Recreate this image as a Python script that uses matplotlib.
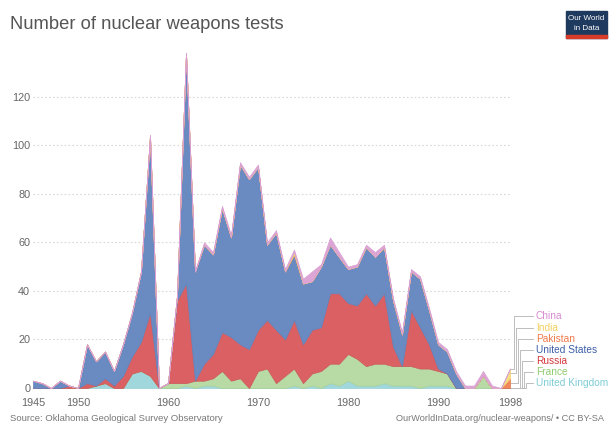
# Stacked area chart of nuclear weapons tests by country, 1945-1998.

import numpy as np
import matplotlib.pyplot as plt
from matplotlib.patches import Rectangle

plt.rcParams['font.family'] = ['Liberation Sans', 'DejaVu Sans']

# Data (tests per year)
years = list(range(1945, 1999))

uk = [0, 0, 0, 0, 0, 0, 0, 1, 2, 0, 0, 6, 7, 5, 0, 0,
      0, 1, 0, 1, 1, 0, 0, 0, 0, 0,
      0, 0, 0, 1, 0, 1, 0, 2, 1, 3,
      1, 1, 1, 2, 1, 1, 1, 0, 1, 1,
      1, 0, 0, 0, 0, 0, 0, 0]
france = [0, 0, 0, 0, 0, 0, 0, 0, 0, 0, 0, 0, 0, 0, 0, 2,
          2, 1, 3, 2, 3, 7, 3, 4, 0, 7,
          8, 2, 5, 7, 2, 5, 7, 8, 9, 11,
          11, 8, 9, 8, 8, 8, 8, 8, 7, 6,
          5, 0, 0, 0, 5, 0, 0, 0]
russia = [0, 0, 0, 0, 1, 0, 2, 0, 2, 1, 5, 7, 12, 26, 0, 0,
          34, 41, 0, 7, 10, 16, 18, 14, 16, 17,
          20, 22, 15, 20, 16, 18, 18, 29, 29, 21,
          22, 30, 24, 29, 8, 0, 23, 17, 10, 1,
          0, 0, 0, 0, 0, 0, 0, 0]
us = [3, 2, 0, 3, 0, 0, 16, 10, 11, 6, 13, 18, 29, 73, 0, 0,
      2, 95, 45, 49, 41, 51, 41, 74, 70, 67,
      31, 40, 28, 27, 25, 20, 25, 20, 15, 14,
      16, 19, 20, 19, 19, 13, 16, 20, 14, 10,
      9, 6, 0, 0, 0, 0, 0, 0]
pakistan = [0] * 53 + [4]
india = [0] * 29 + [1] + [0] * 23 + [4]
china = [0, 0, 0, 0, 0, 0, 0, 0, 0, 0, 0, 0, 0, 0, 0, 0,
         0, 0, 0, 1, 1, 1, 1, 1, 1, 1,
         1, 1, 1, 1, 2, 4, 1, 3, 2, 1,
         1, 1, 2, 1, 1, 1, 1, 1, 1, 1,
         1, 1, 1, 1, 2, 1, 0, 0]

series = [uk, france, russia, us, pakistan, india, china]
names = ['United Kingdom', 'France', 'Russia', 'United States', 'Pakistan', 'India', 'China']
fill_colors = ['#a0d7dd', '#b8dba5', '#da6063', '#6a8ac2', '#f2875c', '#f8de82', '#dca5d6']
edge_colors = ['#93cfd6', '#a9d294', '#cd585b', '#6282bb', '#e67b50', '#efd373', '#d99fd3']
text_colors = ['#7ecdd6', '#8fcb6f', '#d2383c', '#3d5ea8', '#f07a4a', '#f3d060', '#d88ad0']

fig = plt.figure(figsize=(6.09, 4.26), dpi=100)
W, H = 609, 426
ax = fig.add_axes([33 / W, 38 / H, (510 - 33) / W, (388 - 48) / H])
ax.set_xlim(1945, 1998)
ax.set_ylim(0, 140)

# Dotted grid behind the areas
for v in range(20, 140, 20):
    ax.axhline(v, color='#d8d8d8', lw=0.8, ls=(0, (1.5, 2)), zorder=0)

polys = ax.stackplot(years, *series, colors=fill_colors, linewidth=0.5, zorder=2)
for p, c in zip(polys, edge_colors):
    p.set_edgecolor(c)

ax.set_xticks([1945, 1950, 1960, 1970, 1980, 1990, 1998])
ax.set_yticks(range(0, 140, 20))
ax.tick_params(length=0, labelsize=7.8, colors='#666666')
ax.tick_params(axis='x', pad=7)
ax.tick_params(axis='y', pad=2)
for s in ax.spines.values():
    s.set_visible(False)

# Labels on the right with elbow connectors
cum = np.cumsum(np.array(series), axis=0)[:, -1]
bottoms = np.concatenate([[0], cum[:-1]])
ends = (bottoms + cum) / 2
label_x = 1998 + 26 / 9
for i, idx in enumerate(range(6, -1, -1)):
    ly = 29.5 - 4.6 * i
    vx = 1998 + (4 + 2 * i) / 9
    ey = ends[idx]
    ax.plot([1998, vx, vx, label_x - 0.3], [ey, ey, ly, ly],
            color='#bdbdbd', lw=0.7, clip_on=False, zorder=1)
    ax.text(label_x, ly, names[idx], color=text_colors[idx], fontsize=7.3,
            va='center', ha='left', clip_on=False)

# Title, logo and footer
fig.text(10 / W, 1 - 29 / H, 'Number of nuclear weapons tests', fontsize=13.2,
         color='#555555', va='baseline', ha='left')

fig.patches.append(Rectangle((566 / W, 1 - 38 / H), 41 / W, 27 / H,
                             transform=fig.transFigure, color='#1f3a5f'))
fig.patches.append(Rectangle((566 / W, 1 - 38 / H), 41 / W, 3 / H,
                             transform=fig.transFigure, color='#d73b2a'))
fig.text(586.5 / W, 1 - 19 / H, 'Our World', fontsize=5.8, color='white',
         ha='center', va='center')
fig.text(586.5 / W, 1 - 28 / H, 'in Data', fontsize=5.8, color='white',
         ha='center', va='center')

fig.text(10 / W, 1 - 421 / H, 'Source: Oklahoma Geological Survey Observatory',
         fontsize=6.8, color='#777777', va='baseline', ha='left')
fig.text(604 / W, 1 - 421 / H, 'OurWorldInData.org/nuclear-weapons/ \u2022 CC BY-SA',
         fontsize=6.6, color='#777777', va='baseline', ha='right')

fig.savefig('out.png', dpi=100)
